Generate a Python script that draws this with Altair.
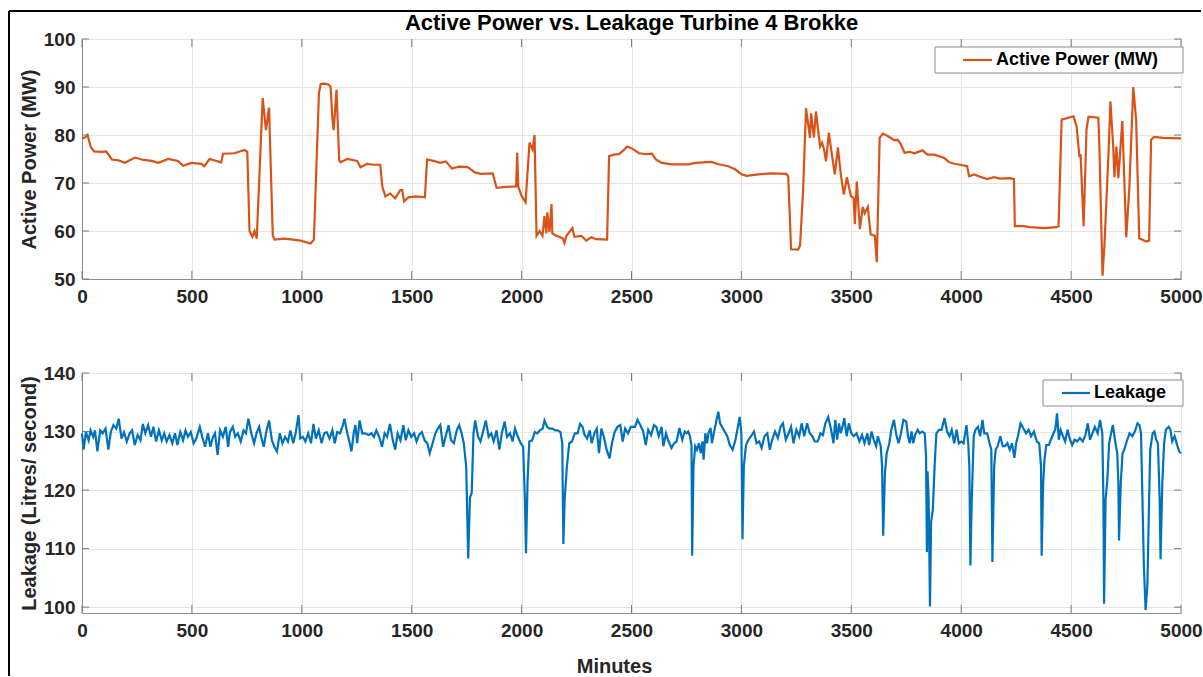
import altair as alt
import pandas as pd

# ---- Active power (MW), minute of record -> value
TIME_POWER = [
    0, 15, 25, 40, 55, 90, 110, 136, 167, 195,
    241, 280, 317, 348, 392, 437, 460, 498, 543, 557,
    580, 633, 642, 693, 740, 752, 762, 775, 785, 795,
    822, 837, 851, 868, 876, 920, 960, 995, 1040, 1055,
    1078, 1086, 1105, 1123, 1131, 1139, 1145, 1158, 1170, 1176,
    1207, 1252, 1267, 1297, 1327, 1357, 1366, 1380, 1402, 1425,
    1448, 1457, 1465, 1485, 1520, 1560, 1570, 1600, 1629, 1655,
    1683, 1715, 1755, 1787, 1815, 1869, 1886, 1930, 1975, 1980,
    1985, 2000, 2018, 2036, 2050, 2059, 2068, 2082, 2095, 2104,
    2113, 2117, 2127, 2136, 2140, 2158, 2186, 2195, 2204, 2231,
    2240, 2272, 2294, 2317, 2340, 2389, 2398, 2420, 2443, 2466,
    2480, 2502, 2534, 2566, 2593, 2611, 2638, 2683, 2760, 2792,
    2864, 2896, 2941, 2973, 3000, 3023, 3077, 3136, 3204, 3213,
    3226, 3258, 3267, 3281, 3294, 3312, 3317, 3330, 3339, 3358,
    3367, 3376, 3385, 3398, 3407, 3425, 3439, 3453, 3466, 3480,
    3498, 3511, 3516, 3525, 3539, 3552, 3561, 3575, 3588, 3607,
    3616, 3629, 3643, 3665, 3697, 3711, 3724, 3742, 3765, 3787,
    3824, 3846, 3878, 3923, 3946, 3968, 3995, 4027, 4036, 4059,
    4086, 4118, 4149, 4176, 4222, 4240, 4244, 4285, 4312, 4376,
    4434, 4443, 4457, 4511, 4525, 4538, 4543, 4557, 4570, 4579,
    4624, 4629, 4643, 4652, 4670, 4679, 4692, 4697, 4706, 4715,
    4733, 4751, 4765, 4783, 4796, 4810, 4842, 4855, 4864, 4878,
    4919, 5000,
]
ACTIVE_POWER = [
    79.3, 79.5, 80.0, 77.5, 76.6, 76.5, 76.6, 74.9, 74.7, 74.2,
    75.3, 74.8, 74.6, 74.2, 75.0, 74.6, 73.6, 74.2, 74.0, 73.5,
    75.0, 74.3, 76.1, 76.2, 76.9, 76.5, 60.0, 58.8, 60.0, 58.4,
    87.7, 81.0, 85.7, 59.0, 58.2, 58.4, 58.2, 58.0, 57.4, 58.2,
    88.8, 90.6, 90.7, 90.5, 90.0, 83.5, 81.0, 89.4, 74.8, 74.3,
    75.0, 74.6, 73.3, 74.0, 73.8, 73.8, 69.3, 67.2, 67.8, 66.8,
    68.5, 68.5, 66.2, 67.0, 67.2, 67.0, 74.9, 74.6, 74.2, 74.5,
    73.0, 73.4, 73.3, 72.2, 71.9, 72.0, 69.0, 69.2, 69.3, 76.3,
    69.2, 67.3, 66.0, 78.4, 77.0, 80.0, 59.0, 60.0, 59.0, 63.1,
    59.5, 63.9, 59.8, 65.6, 59.5, 59.0, 58.5, 57.5, 59.0, 60.6,
    58.8, 59.0, 58.0, 58.7, 58.3, 58.2, 75.6, 75.9, 76.0, 76.9,
    77.6, 77.2, 76.2, 76.0, 76.1, 74.9, 74.2, 73.9, 73.9, 74.2,
    74.4, 73.9, 73.5, 72.8, 71.8, 71.5, 71.8, 72.0, 71.9, 71.4,
    56.2, 56.1, 57.0, 68.7, 85.6, 79.4, 84.5, 79.5, 84.9, 77.6,
    78.4, 77.0, 74.5, 80.5, 77.4, 71.8, 77.4, 71.5, 67.6, 71.2,
    67.3, 66.8, 61.4, 70.3, 60.4, 65.0, 63.7, 65.0, 59.3, 59.0,
    53.5, 79.4, 80.3, 79.8, 78.9, 79.0, 78.2, 76.3, 76.5, 76.2,
    76.8, 75.9, 75.9, 75.2, 74.3, 74.0, 73.8, 73.5, 71.4, 71.8,
    71.3, 70.8, 71.2, 70.9, 71.0, 70.8, 61.0, 61.0, 60.8, 60.6,
    60.8, 61.0, 83.2, 83.9, 81.8, 75.4, 76.0, 61.0, 81.1, 83.8,
    83.6, 77.0, 50.7, 57.3, 76.0, 87.0, 77.2, 71.2, 77.6, 71.0,
    82.9, 58.7, 69.0, 90.0, 83.0, 58.5, 57.8, 58.0, 79.0, 79.6,
    79.4, 79.3,
]

# ---- Leakage (litres / second), minute of record -> value
TIME_LEAK = [
    0, 7, 18, 30, 39, 51, 59, 70, 83, 94,
    107, 120, 131, 143, 156, 167, 180, 191, 204, 217,
    228, 240, 253, 266, 277, 288, 301, 314, 325, 337,
    350, 363, 374, 385, 398, 411, 423, 434, 447, 460,
    471, 482, 495, 508, 520, 536, 547, 560, 573, 584,
    596, 605, 617, 628, 641, 654, 665, 673, 686, 697,
    709, 722, 735, 746, 757, 770, 783, 794, 806, 815,
    827, 838, 851, 864, 875, 887, 900, 912, 924, 937,
    948, 961, 972, 985, 993, 1005, 1016, 1029, 1042, 1053,
    1064, 1077, 1090, 1102, 1113, 1126, 1139, 1150, 1161, 1174,
    1187, 1194, 1207, 1215, 1226, 1236, 1244, 1252, 1263, 1275,
    1288, 1304, 1317, 1328, 1339, 1352, 1365, 1377, 1388, 1401,
    1414, 1425, 1436, 1449, 1462, 1473, 1485, 1498, 1511, 1522,
    1533, 1546, 1559, 1571, 1582, 1595, 1608, 1619, 1630, 1643,
    1656, 1668, 1679, 1692, 1705, 1716, 1727, 1737, 1748, 1757,
    1765, 1773, 1781, 1789, 1802, 1813, 1824, 1837, 1850, 1862,
    1873, 1886, 1899, 1910, 1923, 1934, 1947, 1959, 1970, 1983,
    1996, 2007, 2015, 2020, 2027, 2035, 2048, 2060, 2072, 2083,
    2096, 2104, 2116, 2128, 2141, 2153, 2164, 2177, 2185, 2190,
    2196, 2206, 2217, 2229, 2242, 2255, 2266, 2277, 2287, 2298,
    2310, 2319, 2331, 2342, 2352, 2363, 2374, 2387, 2400, 2411,
    2423, 2436, 2449, 2460, 2471, 2484, 2497, 2516, 2527, 2540,
    2553, 2565, 2576, 2589, 2602, 2613, 2624, 2637, 2645, 2657,
    2669, 2682, 2694, 2705, 2718, 2731, 2742, 2750, 2758, 2766,
    2773, 2776, 2782, 2790, 2798, 2807, 2815, 2823, 2828, 2836,
    2844, 2850, 2860, 2866, 2876, 2887, 2895, 2903, 2915, 2924,
    2936, 2947, 2960, 2973, 2984, 2992, 3000, 3005, 3011, 3021,
    3032, 3044, 3057, 3069, 3081, 3092, 3105, 3118, 3129, 3140,
    3153, 3166, 3178, 3189, 3202, 3215, 3226, 3237, 3250, 3263,
    3274, 3286, 3299, 3311, 3323, 3334, 3347, 3360, 3371, 3382,
    3395, 3408, 3419, 3427, 3436, 3444, 3452, 3460, 3468, 3479,
    3489, 3500, 3511, 3524, 3537, 3549, 3560, 3573, 3581, 3592,
    3602, 3613, 3621, 3634, 3640, 3645, 3653, 3661, 3673, 3682,
    3694, 3705, 3715, 3726, 3737, 3750, 3758, 3766, 3774, 3782,
    3790, 3802, 3811, 3823, 3834, 3840, 3844, 3847, 3852, 3858,
    3863, 3871, 3879, 3887, 3899, 3911, 3924, 3936, 3947, 3957,
    3968, 3979, 3989, 4000, 4011, 4024, 4032, 4037, 4042, 4048,
    4057, 4065, 4076, 4086, 4097, 4105, 4118, 4129, 4137, 4142,
    4150, 4157, 4166, 4178, 4189, 4199, 4210, 4221, 4231, 4242,
    4250, 4258, 4270, 4282, 4295, 4307, 4318, 4331, 4344, 4355,
    4363, 4366, 4373, 4379, 4387, 4399, 4408, 4420, 4428, 4436,
    4444, 4452, 4463, 4473, 4484, 4495, 4505, 4516, 4528, 4540,
    4553, 4565, 4576, 4586, 4597, 4608, 4621, 4632, 4642, 4647,
    4650, 4657, 4665, 4673, 4682, 4690, 4702, 4710, 4715, 4718,
    4726, 4734, 4742, 4753, 4766, 4779, 4790, 4802, 4811, 4818,
    4824, 4831, 4839, 4847, 4855, 4860, 4871, 4879, 4887, 4895,
    4903, 4907, 4915, 4923, 4931, 4944, 4952, 4960, 4971, 4984,
    4992, 5000,
]
LEAKAGE = [
    129.7, 126.9, 129.9, 128.5, 130.2, 129.1, 130.2, 126.6, 130.2, 129.7,
    130.5, 126.9, 129.9, 131.1, 130.5, 132.2, 128.8, 129.9, 128.3, 129.7,
    130.2, 127.7, 129.4, 128.5, 131.3, 129.7, 131.1, 129.1, 130.8, 128.3,
    130.2, 128.5, 129.7, 128.3, 129.4, 128.0, 129.7, 127.7, 129.9, 128.5,
    130.2, 129.1, 129.9, 128.0, 128.8, 130.8, 129.1, 127.4, 129.7, 127.4,
    129.1, 129.7, 126.0, 130.2, 129.1, 130.8, 127.4, 129.9, 130.8, 129.1,
    129.7, 128.3, 130.2, 129.7, 132.2, 129.7, 128.0, 129.7, 130.8, 129.1,
    127.4, 129.9, 131.9, 128.5, 127.4, 126.6, 129.7, 128.0, 129.1, 128.3,
    130.2, 128.0, 129.7, 132.8, 128.8, 129.1, 128.3, 129.7, 128.0, 131.3,
    128.8, 130.2, 128.0, 129.7, 129.9, 128.8, 130.2, 128.0, 129.9, 129.7,
    131.1, 132.2, 129.7, 128.5, 126.6, 129.7, 131.1, 128.0, 131.9, 129.7,
    129.7, 129.4, 129.7, 129.1, 130.2, 129.1, 127.4, 129.7, 129.1, 131.3,
    128.5, 126.9, 129.7, 128.5, 131.1, 128.5, 130.2, 129.1, 129.7, 128.3,
    129.4, 129.9, 128.5, 128.0, 126.3, 128.0, 129.7, 130.5, 131.1, 127.4,
    129.4, 131.1, 128.5, 128.0, 130.2, 131.1, 129.7, 128.0, 124.0, 108.3,
    118.7, 119.5, 129.7, 131.9, 129.1, 128.3, 129.9, 131.9, 129.1, 129.7,
    128.3, 130.2, 126.9, 129.7, 131.7, 129.1, 129.7, 128.3, 130.5, 129.1,
    128.0, 127.4, 118.4, 109.2, 121.4, 128.3, 128.5, 129.9, 129.7, 130.2,
    130.5, 131.9, 130.8, 130.5, 130.5, 130.2, 130.2, 129.9, 128.0, 110.8,
    118.4, 124.0, 128.0, 128.3, 129.7, 129.7, 131.3, 130.8, 129.4, 128.8,
    130.2, 128.0, 129.7, 130.5, 126.3, 130.5, 129.1, 126.9, 125.4, 128.0,
    129.9, 130.8, 131.1, 128.3, 130.5, 129.7, 130.8, 130.8, 132.0, 131.1,
    130.0, 127.7, 130.3, 129.4, 131.1, 130.8, 129.2, 130.8, 127.5, 129.7,
    128.3, 127.2, 128.0, 128.3, 130.6, 128.6, 130.0, 129.7, 130.0, 129.2,
    127.5, 108.8, 124.1, 127.5, 126.9, 128.0, 126.3, 128.3, 125.2, 129.7,
    128.0, 129.7, 130.6, 128.0, 130.0, 132.0, 133.4, 131.4, 130.6, 130.0,
    129.2, 127.7, 126.9, 128.6, 130.8, 132.5, 129.7, 111.6, 124.1, 127.7,
    128.6, 129.2, 130.0, 128.0, 128.3, 127.2, 129.2, 129.7, 126.9, 128.6,
    130.0, 128.9, 130.8, 131.4, 128.6, 129.7, 130.8, 128.0, 130.3, 129.2,
    131.4, 129.2, 131.4, 129.7, 129.2, 128.3, 128.3, 129.7, 129.4, 131.4,
    132.5, 130.3, 128.0, 132.0, 128.6, 131.4, 129.7, 130.8, 132.3, 129.2,
    131.4, 129.7, 129.2, 129.7, 128.3, 129.4, 128.0, 129.7, 127.7, 130.0,
    128.6, 127.5, 129.2, 127.5, 124.1, 112.2, 122.9, 126.3, 128.0, 130.3,
    132.0, 129.4, 128.0, 129.7, 132.0, 131.7, 129.2, 128.0, 130.0, 128.0,
    129.4, 130.3, 129.7, 130.0, 129.7, 125.8, 109.4, 123.2, 118.4, 100.1,
    114.5, 116.7, 124.1, 129.7, 130.3, 130.3, 132.3, 130.0, 129.2, 130.3,
    128.0, 130.3, 128.0, 128.3, 128.0, 131.1, 128.0, 124.1, 107.1, 118.4,
    129.2, 130.3, 130.8, 129.2, 132.0, 129.7, 129.7, 128.0, 126.9, 107.7,
    124.1, 126.9, 127.5, 129.2, 127.5, 127.5, 128.0, 126.9, 128.0, 125.5,
    128.0, 129.2, 131.4, 130.6, 129.7, 130.3, 129.2, 130.0, 128.3, 128.0,
    124.1, 108.8, 121.2, 125.2, 127.7, 127.7, 128.6, 129.7, 130.3, 133.1,
    128.6, 130.3, 129.2, 128.3, 130.3, 128.6, 127.7, 128.6, 128.3, 128.9,
    128.3, 129.4, 131.4, 128.6, 129.7, 130.8, 129.7, 132.0, 129.7, 118.4,
    100.6, 118.4, 121.8, 128.0, 129.7, 131.1, 128.0, 126.3, 121.2, 111.4,
    121.2, 126.3, 126.9, 128.3, 129.7, 129.2, 130.0, 131.4, 131.1, 129.7,
    119.5, 107.1, 99.5, 103.7, 118.4, 126.9, 129.7, 130.0, 128.6, 128.0,
    118.4, 108.2, 121.2, 128.0, 130.3, 130.8, 130.3, 128.3, 129.2, 127.5,
    126.6, 126.3,
]

X_TICKS = [0, 500, 1000, 1500, 2000, 2500, 3000, 3500, 4000, 4500, 5000]
POWER_TICKS = [50, 60, 70, 80, 90, 100]
LEAK_TICKS = [100, 110, 120, 130, 140]

TITLE = "Active Power vs. Leakage Turbine 4 Brokke"
POWER_LABEL = "Active Power (MW)"
LEAK_LABEL = "Leakage"

FONT = "Liberation Sans"
INK = "#262626"
BOX = "#8c8c8c"
TICK = "#7a7a7a"
GRID = "#e4e4e4"
ORANGE = "#D95319"
BLUE = "#0072BD"
W, H = 1099, 240

power = pd.DataFrame({"minute": TIME_POWER, "value": ACTIVE_POWER})
leak = pd.DataFrame({"minute": TIME_LEAK, "value": LEAKAGE})
one = pd.DataFrame({"k": [0]})

X_SCALE = alt.Scale(domain=[0, 5000], nice=False, zero=False)
POWER_SCALE = alt.Scale(domain=[50, 100], nice=False, zero=False)
LEAK_SCALE = alt.Scale(domain=[99, 140], nice=False, zero=False)

TOP_X_AXIS = alt.Axis(values=X_TICKS, format="d", labelFlush=False,
                      labelOverlap=False, title=None)
BOTTOM_X_AXIS = alt.Axis(values=X_TICKS, format="d", labelFlush=False,
                         labelOverlap=False, title="Minutes", titleX=532,
                         titleY=63, titleBaseline="bottom", titleAlign="center")
POWER_Y_AXIS = alt.Axis(values=POWER_TICKS, title="Active Power (MW)")
LEAK_Y_AXIS = alt.Axis(values=LEAK_TICKS, title="Leakage (Litres/ second)")


def inward_ticks(y_ticks, y_scale, x_axis, y_axis):
    """Short tick marks pointing into the plot on all four sides of the box."""
    xt = alt.Chart(pd.DataFrame({"minute": X_TICKS}))
    yt = alt.Chart(pd.DataFrame({"value": y_ticks}))
    xe = alt.X("minute:Q", scale=X_SCALE, axis=x_axis)
    ye = alt.Y("value:Q", scale=y_scale, axis=y_axis)
    return [
        xt.mark_rule(color=TICK, strokeWidth=1).encode(x=xe, y=alt.value(H), y2=alt.value(H - 8)),
        xt.mark_rule(color=TICK, strokeWidth=1).encode(x=xe, y=alt.value(0), y2=alt.value(8)),
        yt.mark_rule(color=TICK, strokeWidth=1).encode(y=ye, x=alt.value(0), x2=alt.value(7)),
        yt.mark_rule(color=TICK, strokeWidth=1).encode(y=ye, x=alt.value(W), x2=alt.value(W - 7)),
    ]


def legend_box(label, color, x0, x1, y0, y1, s0, s1):
    """Boxed legend entry drawn in the panel's pixel space."""
    ym = (y0 + y1) / 2
    box = alt.Chart(one).mark_rect(fill="white", stroke=BOX, strokeWidth=1).encode(
        x=alt.value(x0), x2=alt.value(x1), y=alt.value(y0), y2=alt.value(y1))
    swatch = alt.Chart(one).mark_rule(color=color, strokeWidth=2.2).encode(
        x=alt.value(s0), x2=alt.value(s1), y=alt.value(ym))
    text = alt.Chart(one).mark_text(
        text=label, align="left", baseline="middle", font=FONT, fontSize=18,
        fontWeight="bold", color="black").encode(x=alt.value(s1 + 4), y=alt.value(ym))
    return [box, swatch, text]


# outer figure frame (left and top edges) and the figure title
frame_left = alt.Chart(one).mark_rule(color="black", strokeWidth=2).encode(
    x=alt.value(-73), y=alt.value(-28), y2=alt.value(637))
frame_top = alt.Chart(one).mark_rule(color="black", strokeWidth=2).encode(
    x=alt.value(-73), x2=alt.value(1119), y=alt.value(-28))
title = alt.Chart(one).mark_text(
    text=TITLE, align="center", baseline="alphabetic", font=FONT, fontSize=22,
    fontWeight="bold", color="black").encode(x=alt.value(W / 2), y=alt.value(-9))

power_line = alt.Chart(power).mark_line(color=ORANGE, strokeWidth=2.2).encode(
    x=alt.X("minute:Q", scale=X_SCALE, axis=TOP_X_AXIS),
    y=alt.Y("value:Q", scale=POWER_SCALE, axis=POWER_Y_AXIS),
)

leak_line = alt.Chart(leak).mark_line(color=BLUE, strokeWidth=2.2).encode(
    x=alt.X("minute:Q", scale=X_SCALE, axis=BOTTOM_X_AXIS),
    y=alt.Y("value:Q", scale=LEAK_SCALE, axis=LEAK_Y_AXIS),
)

top = alt.layer(
    power_line, frame_left, frame_top, title,
    *inward_ticks(POWER_TICKS, POWER_SCALE, TOP_X_AXIS, POWER_Y_AXIS),
    *legend_box(POWER_LABEL, ORANGE, 853, 1101, 8, 34, 881, 910),
).properties(width=W, height=H)

bottom = alt.layer(
    leak_line,
    *inward_ticks(LEAK_TICKS, LEAK_SCALE, BOTTOM_X_AXIS, LEAK_Y_AXIS),
    *legend_box(LEAK_LABEL, BLUE, 961, 1101, 7, 33, 980, 1008),
).properties(width=W, height=H)

chart = (
    alt.vconcat(top, bottom, spacing=94, bounds="flush")
    .resolve_scale(y="independent")
    .properties(padding={"left": 7, "top": 9, "right": 0, "bottom": 0},
                background="white")
    .configure_axis(
        labelFont=FONT, labelFontSize=19, labelFontWeight="bold", labelColor=INK,
        titleFont=FONT, titleFontSize=20, titleFontWeight="bold", titleColor=INK,
        domainColor=BOX, domainWidth=1, gridColor=GRID, gridWidth=1, ticks=False,
    )
    .configure_axisX(labelPadding=8)
    .configure_axisY(labelPadding=7, titlePadding=4)
    .configure_view(stroke=BOX, strokeWidth=1)
)

chart.save("out.html", embed_options={"renderer": "svg", "actions": False})
